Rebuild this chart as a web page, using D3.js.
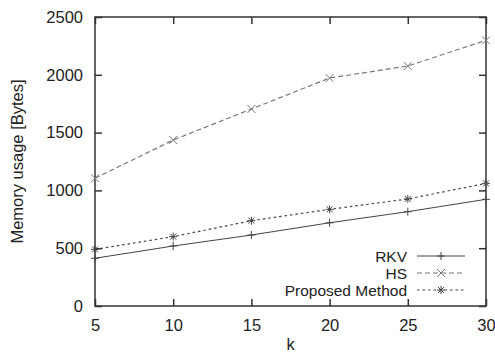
<!DOCTYPE html>
<html>
<head>
<meta charset="utf-8">
<script src="https://cdn.jsdelivr.net/npm/d3@7"></script>
<style>
  body { margin: 0; background: #fff; }
  text { font-family: "Liberation Sans", Arial, sans-serif; fill: #222; }
</style>
</head>
<body>
<div id="chart"></div>
<script>
const k_values = [5, 10, 15, 20, 25, 30]
const rkv = [413, 519, 614, 720, 816, 923]
const hs = [1105, 1436, 1704, 1972, 2076, 2298]
const proposed = [490, 600, 738, 836, 926, 1061]
const y_ticks = [0, 500, 1000, 1500, 2000, 2500]
const series_names = ["RKV", "HS", "Proposed Method"]

const width = 495, height = 353
const margin = { left: 95, right: 9, top: 17, bottom: 47 }
const font_size = "16.5px"

const svg = d3.select("#chart")
  .append("svg")
  .attr("width", width)
  .attr("height", height)

const x = d3.scaleLinear().domain([5, 30]).range([margin.left, width - margin.right])
const y = d3.scaleLinear().domain([0, 2500]).range([height - margin.bottom, margin.top])

const axis_color = "#333"
const tick_len = 7

// ticks, inward on all four sides
svg.append("g")
  .attr("transform", `translate(0,${y(0)})`)
  .call(d3.axisBottom(x).tickValues(k_values).tickSize(-tick_len).tickPadding(13).tickFormat(d3.format("d")))
  .call(g => g.select(".domain").remove())
svg.append("g")
  .attr("transform", `translate(0,${y(2500)})`)
  .call(d3.axisTop(x).tickValues(k_values).tickSize(-tick_len).tickFormat(""))
  .call(g => g.select(".domain").remove())
svg.append("g")
  .attr("transform", `translate(${x(5)},0)`)
  .call(d3.axisLeft(y).tickValues(y_ticks).tickSize(-tick_len).tickPadding(12).tickFormat(d3.format("d")))
  .call(g => g.select(".domain").remove())
svg.append("g")
  .attr("transform", `translate(${x(30)},0)`)
  .call(d3.axisRight(y).tickValues(y_ticks).tickSize(-tick_len).tickFormat(""))
  .call(g => g.select(".domain").remove())

svg.selectAll(".tick line").attr("stroke", axis_color).attr("stroke-width", 1.5)
svg.selectAll("g").attr("font-size", null).attr("font-family", null)
svg.selectAll(".tick text")
  .style("font-family", "'Liberation Sans', Arial, sans-serif")
  .style("font-size", font_size)
  .attr("fill", "#222")

// frame
svg.append("rect")
  .attr("x", x(5))
  .attr("y", y(2500))
  .attr("width", x(30) - x(5))
  .attr("height", y(0) - y(2500))
  .attr("fill", "none")
  .attr("stroke", axis_color)
  .attr("stroke-width", 1.5)

// axis titles
svg.append("text")
  .attr("x", (x(5) + x(30)) / 2)
  .attr("y", 350)
  .attr("text-anchor", "middle")
  .style("font-size", font_size)
  .text("k")
svg.append("text")
  .attr("transform", `translate(23,${(y(0) + y(2500)) / 2}) rotate(-90)`)
  .attr("text-anchor", "middle")
  .style("font-size", font_size)
  .text("Memory usage [Bytes]")

const marker_paths = {
  plus: "M-4,0H4M0,-4V4",
  cross: "M-4,-4L4,4M-4,4L4,-4",
  star: "M-4,0H4M0,-4V4M-3,-3L3,3M-3,3L3,-3"
}

const series = [
  { name: series_names[0], values: rkv, color: "#444", dash: null, marker: "plus", width: 1 },
  { name: series_names[1], values: hs, color: "#777", dash: "5,3", marker: "cross", width: 1.2 },
  { name: series_names[2], values: proposed, color: "#444", dash: "2.5,3", marker: "star", width: 1.2 }
]

const line = d3.line().x(d => x(d.k)).y(d => y(d.v))

series.forEach((s) => {
  const pts = k_values.map((k, i) => ({ k: k, v: s.values[i] }))
  svg.append("path")
    .datum(pts)
    .attr("d", line)
    .attr("fill", "none")
    .attr("stroke", s.color)
    .attr("stroke-width", s.width)
    .attr("stroke-dasharray", s.dash)
  svg.selectAll(null)
    .data(pts)
    .join("path")
    .attr("transform", d => `translate(${x(d.k)},${y(d.v)})`)
    .attr("d", marker_paths[s.marker])
    .attr("fill", "none")
    .attr("stroke", s.color)
    .attr("stroke-width", 1)
})

// legend
const legend_y = [256, 273, 290]
series.forEach((s, i) => {
  const g = svg.append("g").attr("transform", `translate(0,${legend_y[i]})`)
  g.append("text")
    .attr("x", 407)
    .attr("y", 6)
    .attr("text-anchor", "end")
    .style("font-size", "15.5px")
    .text(s.name)
  g.append("line")
    .attr("x1", 417).attr("x2", 465)
    .attr("stroke", s.color)
    .attr("stroke-width", s.width)
    .attr("stroke-dasharray", s.dash)
  g.append("path")
    .attr("transform", "translate(441,0)")
    .attr("d", marker_paths[s.marker])
    .attr("fill", "none")
    .attr("stroke", s.color)
})
</script>
</body>
</html>
